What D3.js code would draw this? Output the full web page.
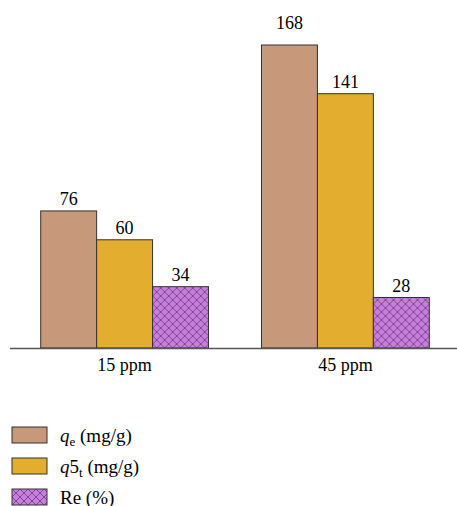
<!DOCTYPE html>
<html><head><meta charset="utf-8">
<script src="https://cdn.jsdelivr.net/npm/d3@7"></script>
<style>body{margin:0;background:#fff}text{font-family:"Liberation Serif",serif}</style>
</head><body><div id="chart"></div>
<script>
var groups = ['15 ppm', '45 ppm'];
var series = ['qe', 'q5t', 'Re'];
var values = [[76, 60, 34], [168, 141, 28]];
var fills = ['#c8987b', '#e3ad2f', '#c67fdc'];

var width = 457, height = 506;
var svg = d3.select('#chart').append('svg').attr('width', width).attr('height', height);

var defs = svg.append('defs');
var p = defs.append('pattern').attr('id', 'hatch').attr('patternUnits', 'userSpaceOnUse')
	.attr('width', 8).attr('height', 8);
p.append('rect').attr('width', 8).attr('height', 8).attr('fill', fills[2]);
p.append('path').attr('d', 'M0,0L8,8M8,0L0,8').attr('stroke', '#7a3d8c').attr('stroke-width', 0.9);

var x0 = d3.scaleBand().domain(groups).range([12, 458]).paddingInner(0.24).paddingOuter(0.13);
var x1 = d3.scaleBand().domain(series).range([0, x0.bandwidth()]);
var y = d3.scaleLinear().domain([0, 168]).range([348, 45]);

var g = svg.selectAll('.grp').data(values).enter().append('g')
	.attr('transform', function(d, i) { return 'translate(' + x0(groups[i]) + ',0)'; });

g.selectAll('rect').data(function(d) { return d; }).enter().append('rect')
	.attr('x', function(d, i) { return x1(series[i]); })
	.attr('y', function(d) { return y(d); })
	.attr('width', x1.bandwidth())
	.attr('height', function(d) { return y(0) - y(d); })
	.attr('fill', function(d, i) { return i == 2 ? 'url(#hatch)' : fills[i]; })
	.attr('stroke', '#333').attr('stroke-width', 1);

g.selectAll('text').data(function(d) { return d; }).enter().append('text')
	.attr('x', function(d, i) { return x1(series[i]) + x1.bandwidth() / 2; })
	.attr('y', function(d) { return y(d) - (d == 168 ? 16 : 6); })
	.attr('text-anchor', 'middle').attr('font-size', 18).text(function(d) { return d; });

var xAxis = d3.axisBottom(x0).tickSize(0).tickPadding(10);
var ax = svg.append('g').attr('transform', 'translate(0,348)').call(xAxis);
ax.select('.domain').attr('d', 'M10,0.5H458').attr('stroke', '#555').attr('stroke-width', 1.5);
ax.selectAll('text').attr('font-size', 18).attr('font-family', '"Liberation Serif",serif').attr('fill', '#000');

var legend = [
	{ fill: fills[0], main: 'q', sub: 'e', rest: ' (mg/g)' },
	{ fill: fills[1], main: 'q5', sub: 't', rest: ' (mg/g)' },
	{ fill: 'url(#hatch)', main: 'Re (%)', sub: '', rest: '' }
];
var lg = svg.selectAll('.lg').data(legend).enter().append('g')
	.attr('transform', function(d, i) { return 'translate(12,' + (427 + i * 31) + ')'; });
lg.append('rect').attr('width', 35).attr('height', 16).attr('fill', function(d) { return d.fill; })
	.attr('stroke', '#333');
var t = lg.append('text').attr('x', 48).attr('y', 15).attr('font-size', 19);
t.append('tspan').attr('font-style', function(d, i) { return i < 2 ? 'italic' : 'normal'; })
	.text(function(d, i) { return i == 1 ? 'q' : d.main; });
t.filter(function(d, i) { return i == 1; }).append('tspan').text('5');
t.append('tspan').attr('font-size', 13).attr('dy', 4).text(function(d) { return d.sub; });
t.append('tspan').attr('dy', -4).text(function(d) { return d.rest; });
</script></body></html>
